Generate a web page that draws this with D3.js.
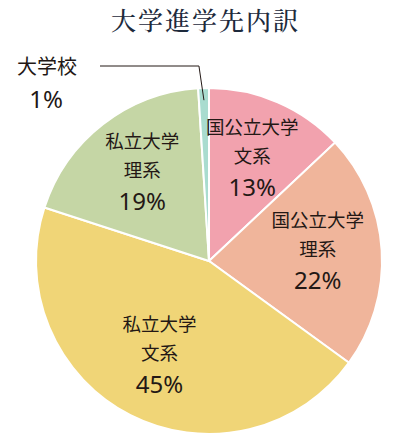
<!DOCTYPE html>
<html>
<head>
<meta charset="utf-8">
<script src="https://cdn.jsdelivr.net/npm/d3@7"></script>
<style>
  body { margin: 0; background: #fff; }
  text { font-family: "Noto Sans CJK JP", "Noto Sans", sans-serif; fill: #231815; }
  text.pct { font-family: "Noto Sans", sans-serif; }
</style>
</head>
<body>
<div id="pie"></div>
<script>
/* DATA */
const categories = ["国公立大学文系", "国公立大学理系", "私立大学文系", "私立大学理系", "大学校"];
const labelLines = [["国公立大学", "文系"], ["国公立大学", "理系"], ["私立大学", "文系"], ["私立大学", "理系"], ["大学校"]];
const values = [13, 22, 45, 19, 1];
const colors = ["#f2a2ae", "#f0b59b", "#f0d577", "#c5d6a5", "#a9dccf"];
const title = "大学進学先内訳";

/* CONSTANTS */
const width = 409;
const height = 443;
const cx = 209, cy = 261, radius = 173;

const data = categories.map((c, i) => ({ name: c, lines: labelLines[i], value: values[i], color: colors[i] }));

const svg = d3.select("#pie")
  .append("svg")
  .attr("width", width)
  .attr("height", height);

svg.append("text")
  .attr("x", width / 2 + 1)
  .attr("y", 30)
  .attr("text-anchor", "middle")
  .attr("font-size", 25)
  .attr("font-weight", 500)
  .style("font-family", "'Noto Serif CJK JP', 'Noto Sans CJK JP', serif")
  .style("fill", "#1d2a3c")
  .style("letter-spacing", "2px")
  .text(title);

const pie = d3.pie().sort(null).value(d => d.value);
const arcs = pie(data);

const arc = d3.arc().innerRadius(0).outerRadius(radius);
const labelArc = d3.arc().innerRadius(radius * 0.63).outerRadius(radius * 0.63);
const pointArc = d3.arc().innerRadius(radius * 0.93).outerRadius(radius * 0.93);

const g = svg.append("g").attr("transform", `translate(${cx},${cy})`);

g.selectAll("path")
  .data(arcs)
  .join("path")
  .attr("d", arc)
  .attr("fill", d => d.data.color)
  .attr("stroke", "#fff")
  .attr("stroke-width", 2);

// labels inside the big slices
const big = arcs.filter(d => d.data.value >= 5);
const lab = g.selectAll("g.lab")
  .data(big)
  .join("g")
  .attr("class", "lab")
  .attr("transform", d => `translate(${labelArc.centroid(d)})`);

lab.append("text")
  .attr("text-anchor", "middle")
  .attr("y", -27)
  .attr("font-size", 18.5)
  .text(d => d.data.lines[0]);
lab.append("text")
  .attr("text-anchor", "middle")
  .attr("y", 2)
  .attr("font-size", 18.5)
  .text(d => d.data.lines[1]);
lab.append("text")
  .attr("class", "pct")
  .attr("text-anchor", "middle")
  .attr("y", 35)
  .attr("font-size", 24)
  .text(d => d.data.value + "%");

// small slice: outside label with leader line
const small = arcs.filter(d => d.data.value < 5);
small.forEach(d => {
  const p = pointArc.centroid(d);
  const elbowY = 66 - cy;
  const elbowX = p[0] - 5;
  g.append("polyline")
    .attr("points", [[100 - cx, elbowY], [elbowX, elbowY], p].map(q => q.join(",")).join(" "))
    .attr("fill", "none")
    .attr("stroke", "#231815")
    .attr("stroke-width", 1);
  svg.append("text")
    .attr("x", 47)
    .attr("y", 74)
    .attr("text-anchor", "middle")
    .attr("font-size", 20)
    .text(d.data.lines[0]);
  svg.append("text")
    .attr("class", "pct")
    .attr("x", 46)
    .attr("y", 108)
    .attr("text-anchor", "middle")
    .attr("font-size", 24)
    .text(d.data.value + "%");
});
</script>
</body>
</html>
